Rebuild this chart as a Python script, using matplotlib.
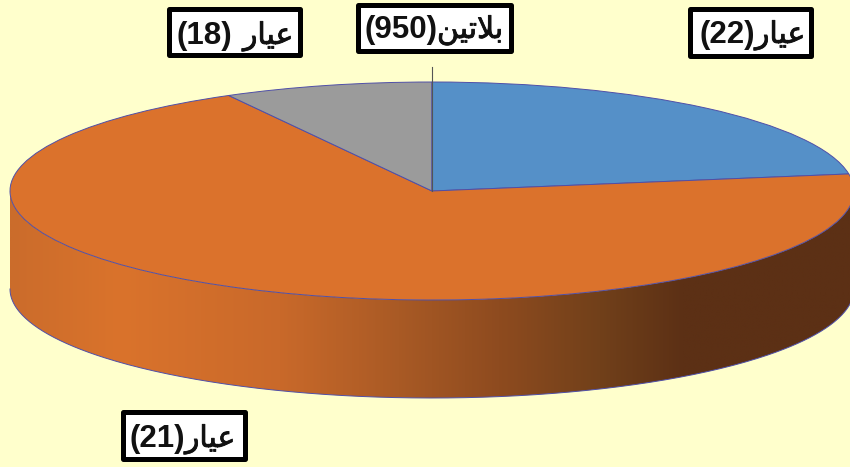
import numpy as np
import matplotlib
matplotlib.use('Agg')
import matplotlib.pyplot as plt
import matplotlib.patheffects as pe
from matplotlib.colors import LinearSegmentedColormap
from matplotlib.patches import PathPatch, Rectangle
from matplotlib.path import Path
from matplotlib.transforms import Affine2D

plt.rcParams['font.family'] = ['Liberation Sans', 'DejaVu Sans']

# share of each slice, clockwise from 12 o'clock
values = [22.5, 69.5, 8.0, 0.0]
colors = ['#5590C8', '#DB722C', '#9B9B9B', '#7F6000']
names = ['عيار', 'عيار', 'عيار', 'بلاتين']
numbers = ['(22)', '(21)', '(18)', '(950)']

# label boxes in pixels: left, top, right, bottom
boxes = [(690, 9, 811, 56), (123, 412, 245, 459), (169, 9, 300, 55), (358, 5, 511, 51)]
# where the number ends, where the word starts, text baseline
number_right = [755, 185, 232, 437]
word_left = [755, 185, 243, 437]
baselines = [43, 447, 44, 38]

# where the pie sits on the canvas, pixels
W, H = 850, 467
cx, cy, rx, ry, depth = 432, 191, 422, 109, 98

BG = '#FFFFCC'
EDGE = '#4F4FA8'

# matplotlib has no arabic shaping: isolated, final, initial, medial
FORMS = {
    'ع': '\uFEC9\uFECA\uFECB\uFECC',
    'ي': '\uFEF1\uFEF2\uFEF3\uFEF4',
    'ا': '\uFE8D\uFE8E\uFE8D\uFE8E',
    'ر': '\uFEAD\uFEAE\uFEAD\uFEAE',
    'ب': '\uFE8F\uFE90\uFE91\uFE92',
    'ل': '\uFEDD\uFEDE\uFEDF\uFEE0',
    'ت': '\uFE95\uFE96\uFE97\uFE98',
    'ن': '\uFEE5\uFEE6\uFEE7\uFEE8',
}


def shape(word):
    out = []
    i = 0
    joined = False
    while i < len(word):
        ch = word[i]
        if word[i:i + 2] == 'لا':
            out.append('\uFEFC' if joined else '\uFEFB')
            joined = False
            i += 2
            continue
        after = i + 1 < len(word)
        if ch in 'ار':
            out.append(FORMS[ch][1 if joined else 0])
            joined = False
        else:
            out.append(FORMS[ch][(3 if after else 1) if joined else (2 if after else 0)])
            joined = after
        i += 1
    return ''.join(out[::-1])


fig = plt.figure(figsize=(W / 100, H / 100), dpi=100, facecolor=BG)
ax = fig.add_axes([0, 0, 1, 1])

wedges, _ = ax.pie(values, colors=colors, startangle=90, counterclock=False, radius=1,
                   wedgeprops={'edgecolor': EDGE, 'linewidth': 0.7})
ax.set_aspect('auto')

# side wall, only the front half of the disc shows
d = depth / ry
t = np.linspace(np.pi, 2 * np.pi, 300)
xs = np.cos(t)
ys = np.sin(t)
wall_x = np.r_[xs, xs[::-1]]
wall_y = np.r_[ys, ys[::-1] - d]
wall = PathPatch(Path(np.c_[wall_x, wall_y]), facecolor='none', edgecolor='none', zorder=0.5)
ax.add_patch(wall)
ax.plot(xs, ys - d, color=EDGE, lw=0.7, zorder=0.6)

stops = [(0.0, '#CB6C2B'), (0.13, '#DA732C'), (0.32, '#C9692A'), (0.46, '#A95A25'),
         (0.58, '#8E4B1F'), (0.70, '#71401A'), (0.80, '#5C3015'), (1.0, '#5C3015')]
cmap = LinearSegmentedColormap.from_list('wall', stops)
im = ax.imshow(np.linspace(0, 1, 512)[None, :], cmap=cmap, aspect='auto', zorder=0.4,
               extent=(-1, 1, -1 - d, 0), interpolation='bilinear')
im.set_clip_path(wall)

ax.set_xlim(-cx / rx, (W - cx) / rx)
ax.set_ylim(-(H - cy) / ry, cy / ry)
ax.axis('off')

# labels are placed in canvas pixels, y going down
px = Affine2D().scale(1, -1).translate(0, H)
ax.plot([cx, cx], [67, cy], color='#555555', lw=0.8, transform=px, clip_on=False, zorder=3)

for i, (x0, y0, x1, y1) in enumerate(boxes):
    ax.add_patch(Rectangle((x0, y0), x1 - x0, y1 - y0, facecolor='white', edgecolor='black',
                           linewidth=3.6, joinstyle='round', transform=px, zorder=4, clip_on=False))
    ax.text(number_right[i], baselines[i], numbers[i], transform=px, ha='right', va='baseline',
            fontsize=22.5, fontweight='bold', color='#111111', zorder=5)
    ax.text(word_left[i], baselines[i], shape(names[i]), transform=px, ha='left', va='baseline',
            fontsize=21.5, color='#111111', family='DejaVu Sans', zorder=5,
            path_effects=[pe.withStroke(linewidth=0.6, foreground='#111111')])

fig.savefig('out.png', dpi=100, facecolor=BG)
